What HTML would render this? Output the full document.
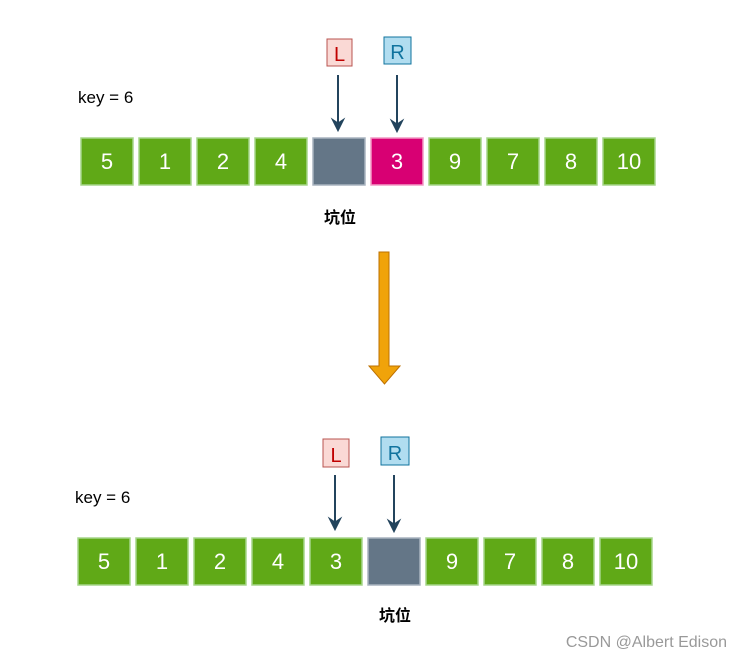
<!DOCTYPE html>
<html><head><meta charset="utf-8">
<style>
html,body{margin:0;padding:0;background:#fff;}
svg{display:block;}
text{font-family:"Liberation Sans","Noto Sans CJK SC",sans-serif;}
</style></head>
<body>
<svg id="c" width="741" height="657" viewBox="0 0 741 657" xmlns="http://www.w3.org/2000/svg">
<text x="78" y="103" font-size="17" fill="#000">key = 6</text>
<text x="75" y="503" font-size="17" fill="#000">key = 6</text>

<g>
<rect x="327" y="39" width="25" height="27" fill="#fad9d5" stroke="#b85450" stroke-width="1"/>
<text x="339.5" y="61" font-size="20" text-anchor="middle" fill="#c00000">L</text>
</g>
<g>
<rect x="384" y="37" width="27" height="27" fill="#b1ddf0" stroke="#10739e" stroke-width="1"/>
<text x="397.5" y="59" font-size="20" text-anchor="middle" fill="#10739e">R</text>
</g>
<g>
<line x1="338" y1="75" x2="338" y2="124" stroke="#23445d" stroke-width="2"/>
<path d="M332,119 L338,131 L344,119 L338,123 Z" fill="#23445d" stroke="#23445d" stroke-width="1"/>
</g>
<g>
<line x1="397" y1="75" x2="397" y2="125" stroke="#23445d" stroke-width="2"/>
<path d="M391,120 L397,132 L403,120 L397,124 Z" fill="#23445d" stroke="#23445d" stroke-width="1"/>
</g>

<g>
<rect x="323" y="439" width="26" height="28" fill="#fad9d5" stroke="#b85450" stroke-width="1"/>
<text x="336" y="462" font-size="20" text-anchor="middle" fill="#c00000">L</text>
</g>
<g>
<rect x="381" y="437" width="28" height="28" fill="#b1ddf0" stroke="#10739e" stroke-width="1"/>
<text x="395" y="460" font-size="20" text-anchor="middle" fill="#10739e">R</text>
</g>
<g>
<line x1="335" y1="475" x2="335" y2="523" stroke="#23445d" stroke-width="2"/>
<path d="M329,518 L335,530 L341,518 L335,522 Z" fill="#23445d" stroke="#23445d" stroke-width="1"/>
</g>
<g>
<line x1="394" y1="475" x2="394" y2="525" stroke="#23445d" stroke-width="2"/>
<path d="M388,520 L394,532 L400,520 L394,524 Z" fill="#23445d" stroke="#23445d" stroke-width="1"/>
</g>

<path d="M379,252 L389,252 L389,366 L400,366 L384.5,384 L369,366 L379,366 Z" fill="#f0a30a" stroke="#bd7000" stroke-width="1"/>

<text x="340" y="223" font-size="16" font-weight="bold" text-anchor="middle" fill="#000">坑位</text>
<text x="395" y="621" font-size="16" font-weight="bold" text-anchor="middle" fill="#000">坑位</text>
<text x="727" y="647" font-size="16" text-anchor="end" fill="#999">CSDN @Albert Edison</text>
<g id="rows"></g>
</svg>
<script>
const topValues = ["5","1","2","4","","3","9","7","8","10"];
const topKinds = ["n","n","n","n","pit","cur","n","n","n","n"];
const bottomValues = ["5","1","2","4","3","","9","7","8","10"];
const bottomKinds = ["n","n","n","n","n","pit","n","n","n","n"];
const fills = {n:"#60a917", pit:"#647687", cur:"#d80073"};
const strokes = {n:"#a5d58a", pit:"#a8b3bf", cur:"#f29ac5"};
const g = document.getElementById('rows');
const NS = "http://www.w3.org/2000/svg";
function drawRow(vals, kinds, x0, y0, rowName){
  vals.forEach((v,i)=>{
    const x = x0 + i*58;
    const r = document.createElementNS(NS,'rect');
    r.setAttribute('x',x); r.setAttribute('y',y0);
    r.setAttribute('width',52); r.setAttribute('height',47);
    r.setAttribute('fill',fills[kinds[i]]);
    r.setAttribute('stroke',strokes[kinds[i]]);
    r.setAttribute('stroke-width',1.5);
    
    
    g.appendChild(r);
    if(v!==""){
      const t = document.createElementNS(NS,'text');
      t.setAttribute('x',x+26); t.setAttribute('y',y0+31);
      t.setAttribute('text-anchor','middle');
      t.setAttribute('font-size','22');
      t.setAttribute('fill','#fff');
      t.textContent = v;
      
      
      g.appendChild(t);
    }
  });
}
drawRow(topValues, topKinds, 81, 138, 'top-row');
drawRow(bottomValues, bottomKinds, 78, 538, 'bottom-row');
</script>
</body></html>
